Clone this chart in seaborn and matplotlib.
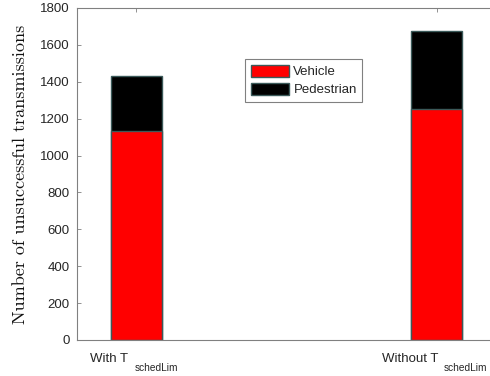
import matplotlib
matplotlib.use("Agg")
import matplotlib.pyplot as plt
from matplotlib.patches import Patch
import seaborn as sns
import pandas as pd

categories = ["With T", "Without T"]
category_subscript = "schedLim"
vehicle = [1135, 1250]
pedestrian = [295, 425]
series_names = ["Vehicle", "Pedestrian"]
y_ticks = [0, 200, 400, 600, 800, 1000, 1200, 1400, 1600, 1800]

sns.set_theme(style="white")
plt.rcParams["font.family"] = ["Liberation Sans", "DejaVu Sans"]

totals = [v + p for v, p in zip(vehicle, pedestrian)]
df = pd.DataFrame({"case": categories, "vehicle": vehicle, "total": totals})

fig = plt.figure(figsize=(4.9, 3.76), dpi=100)
# the plot area runs past the right edge of the figure
ax_left, ax_right = 76.7, 520.0
ax = fig.add_axes([ax_left / 490, 36 / 376, (ax_right - ax_left) / 490, 332 / 376])

edge = "#3b5a5a"
bar_w = 0.171
# stacked bars: full total in black, vehicle share in red on top of it
sns.barplot(data=df, x="case", y="total", color="black", width=bar_w,
            saturation=1, edgecolor=edge, linewidth=1.0, ax=ax, errorbar=None)
sns.barplot(data=df, x="case", y="vehicle", color="#ff0000", width=bar_w,
            saturation=1, edgecolor=edge, linewidth=1.0, ax=ax, errorbar=None)

px_per_unit = 300.3
x0 = -(136.2 - ax_left) / px_per_unit
ax.set_xlim(x0, x0 + (ax_right - ax_left) / px_per_unit)
ax.set_ylim(0, 1800)
ax.set_yticks(y_ticks)
ax.set_xlabel("")
ax.set_ylabel("Number of unsuccessful transmissions", family="cmr10",
              fontsize=13, color="#111111", labelpad=9)

tick_col = "#262626"
spine_col = "#808080"
ax.tick_params(axis="both", direction="in", length=3, width=0.6,
               colors=spine_col, labelcolor=tick_col, labelsize=9.5,
               top=True, left=True, bottom=True, right=False)
ax.tick_params(axis="y", pad=5)
for side in ["left", "bottom", "top"]:
    ax.spines[side].set_color(spine_col)
    ax.spines[side].set_linewidth(0.8)
    ax.spines[side].set_visible(True)
ax.spines["right"].set_visible(False)

# category labels with a subscript, centred under each bar
ax.set_xticks(range(len(categories)))
ax.set_xticklabels([""] * len(categories))
fig.canvas.draw()
renderer = fig.canvas.get_renderer()
xform = ax.get_xaxis_transform()
gap = 6
for i, name in enumerate(categories):
    main = ax.annotate(name, xy=(i, 0), xycoords=xform, xytext=(0, -21.7),
                       textcoords="offset pixels", ha="left", va="baseline",
                       fontsize=9.5, color=tick_col, annotation_clip=False)
    sub = ax.annotate(category_subscript, xy=(i, 0), xycoords=xform,
                      xytext=(0, -30.7), textcoords="offset pixels",
                      ha="left", va="baseline", fontsize=7.3, color=tick_col,
                      annotation_clip=False)
    w1 = main.get_window_extent(renderer).width
    w2 = sub.get_window_extent(renderer).width
    start = -(w1 + gap + w2) / 2
    main.set_position((start - 2, -21.7))
    sub.set_position((start - 2 + w1 + gap, -30.7))

handles = [Patch(facecolor="#ff0000", edgecolor=edge, label=series_names[0]),
           Patch(facecolor="black", edgecolor=edge, label=series_names[1])]
leg = ax.legend(handles=handles, loc="upper left",
                bbox_to_anchor=(245 / 490, 1 - 59 / 376),
                bbox_transform=fig.transFigure, fontsize=9.5,
                frameon=True, fancybox=False, framealpha=1,
                edgecolor=spine_col, handlelength=2.95, handleheight=1.06,
                handletextpad=0.3, labelspacing=0.35, borderpad=0.42,
                borderaxespad=0)
leg.get_frame().set_linewidth(0.8)
for t in leg.get_texts():
    t.set_color(tick_col)

fig.savefig("out.png", dpi=100)
